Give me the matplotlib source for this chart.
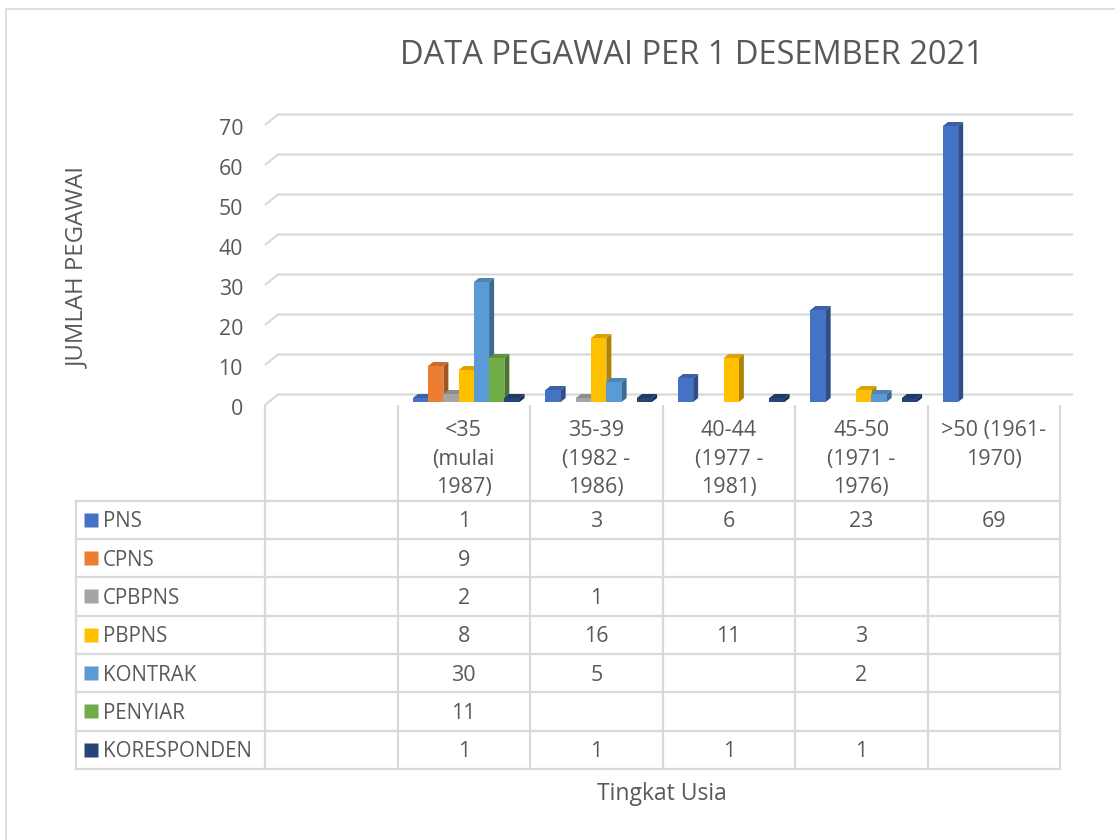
import matplotlib
matplotlib.use("Agg")
import matplotlib.pyplot as plt
from matplotlib.patches import Rectangle, Polygon
import matplotlib.colors as mcolors
import matplotlib.transforms as mtransforms

# ---------------- data ----------------
categories = ["", "<35\n(mulai\n1987)", "35-39\n(1982 -\n1986)", "40-44\n(1977 -\n1981)",
              "45-50\n(1971 -\n1976)", ">50 (1961-\n1970)"]
series_names = ["PNS", "CPNS", "CPBPNS", "PBPNS", "KONTRAK", "PENYIAR", "KORESPONDEN"]
pns = [None, 1, 3, 6, 23, 69]
cpns = [None, 9, None, None, None, None]
cpbpns = [None, 2, 1, None, None, None]
pbpns = [None, 8, 16, 11, 3, None]
kontrak = [None, 30, 5, None, 2, None]
penyiar = [None, 11, None, None, None, None]
koresponden = [None, 1, 1, 1, 1, None]
series_values = [pns, cpns, cpbpns, pbpns, kontrak, penyiar, koresponden]
series_colors = ["#4472C4", "#ED7D31", "#A5A5A5", "#FFC000", "#5B9BD5", "#70AD47", "#264478"]
y_ticks = [0, 10, 20, 30, 40, 50, 60, 70]
title = "DATA PEGAWAI PER 1 DESEMBER 2021"
y_title = "JUMLAH PEGAWAI"
x_title = "Tingkat Usia"

# ---------------- style ----------------
plt.rcParams["font.family"] = ["Open Sans", "DejaVu Sans"]
TXT = "#595959"
GRID = "#d9d9d9"
W, H = 1115, 840
fig = plt.figure(figsize=(W / 100, H / 100), dpi=100)
fig.patch.set_facecolor("white")


def fx(px):
    return px / W


def fy(py):
    return 1 - py / H


# chart axes (front plane)
ax = fig.add_axes([fx(265), fy(405), (1060 - 265) / W, (405 - 125) / H])
ncat = len(categories)
ax.set_xlim(0, ncat)
ax.set_ylim(0, 70)
ax.axis("off")

xs = (1060 - 265) / ncat   # px per category
ys = (405 - 125) / 70.0    # px per unit

# y tick labels (baseline placed below the front grid point)
tick_tr = mtransforms.offset_copy(ax.transData, fig=fig, x=-22, y=-9.5, units="dots")
for v in y_ticks:
    ax.text(0, v, str(v), transform=tick_tr, ha="right", va="baseline",
            fontsize=15.3, color=TXT)

# back wall gridlines
wdx, wdy = 13 / xs, 10.5 / ys
for v in y_ticks:
    ax.plot([0, wdx, ncat + wdx], [v, v + wdy, v + wdy], color=GRID,
            lw=1.6, clip_on=False, zorder=1, solid_capstyle="butt")

# 3D bars
gap = 0.0975
bw = (1 - 2 * gap) / len(series_names)
bdx, bdy = 2.5 / xs, 3 / ys
ddx, ddy = 5 / xs, 4 / ys


def shade(c, f):
    r, g, b = mcolors.to_rgb(c)
    return (r * f, g * f, b * f)


z = 5
for i in range(ncat):
    for j, vals in enumerate(series_values):
        v = vals[i]
        if v is None:
            continue
        c = series_colors[j]
        x0 = i + gap + j * bw + bdx
        x1 = x0 + bw
        y0 = bdy
        y1 = v + bdy
        ax.add_patch(Polygon([(x1, y0), (x1, y1), (x1 + ddx, y1 + ddy), (x1 + ddx, y0 + ddy)],
                             closed=True, fc=shade(c, 0.68), ec="none", zorder=z, clip_on=False))
        ax.add_patch(Polygon([(x0, y1), (x1, y1), (x1 + ddx, y1 + ddy), (x0 + ddx, y1 + ddy)],
                             closed=True, fc=shade(c, 0.85), ec="none", zorder=z, clip_on=False))
        ax.add_patch(Rectangle((x0, y0), bw, v, fc=c, ec="none", zorder=z + 1, clip_on=False))
        z += 2

# ---------------- data table ----------------
row_h = (769 - 500.5) / 7
tax = fig.add_axes([fx(76), fy(769), (1060 - 76) / W, (769 - 405) / H])
xleft = -(265 - 76) / xs
ytop = (769 - 405) / row_h
tax.set_xlim(xleft, ncat)
tax.set_ylim(0, ytop)
tax.axis("off")
nrow = len(series_names)
for r in range(nrow + 1):
    tax.plot([xleft, ncat], [r, r], color=GRID, lw=1.6, clip_on=False, solid_capstyle="projecting")
tax.plot([xleft, xleft], [0, nrow], color=GRID, lw=1.6, clip_on=False, solid_capstyle="projecting")
for i in range(ncat + 1):
    tax.plot([i, i], [0, ytop], color=GRID, lw=1.6, clip_on=False, solid_capstyle="butt")

# header labels: one text per line, baselines 28.7 px apart
hdr_base = (769 - 436) / row_h
line_step = 28.7 / row_h
for i, lab in enumerate(categories):
    for k, line in enumerate(lab.split("\n")):
        tax.text(i + 0.5, hdr_base - k * line_step, line, ha="center", va="baseline",
                 fontsize=15.5, color=TXT)

mark_x = (91 - 265) / xs
text_x = (103 - 265) / xs
base_off = 7.6 / row_h
for j, name in enumerate(series_names):
    yc = nrow - j - 0.5
    tax.plot([mark_x], [yc], marker="s", markersize=10, color=series_colors[j],
             mec="none", clip_on=False)
    tax.text(text_x, yc - base_off, name, ha="left", va="baseline", fontsize=14.8, color=TXT)
    for i, v in enumerate(series_values[j]):
        if v is not None:
            tax.text(i + 0.5, yc - base_off, str(v), ha="center", va="baseline",
                     fontsize=15.5, color=TXT)

# titles
fig.text(fx(692), fy(64.3), title, ha="center", va="baseline", fontsize=23.5, color=TXT)
fig.text(fx(78), fy(267), y_title, ha="center", va="center", rotation=90, fontsize=17.2, color=TXT)
fig.text(fx(662), fy(800.5), x_title, ha="center", va="baseline", fontsize=16.5, color=TXT)

# outer border (only top/left visible)
fig.patches.append(Rectangle((fx(6), -0.1), 1.2, fy(9) + 0.1, transform=fig.transFigure,
                             fill=False, ec=GRID, lw=1.2))

fig.savefig("out.png", dpi=100)
